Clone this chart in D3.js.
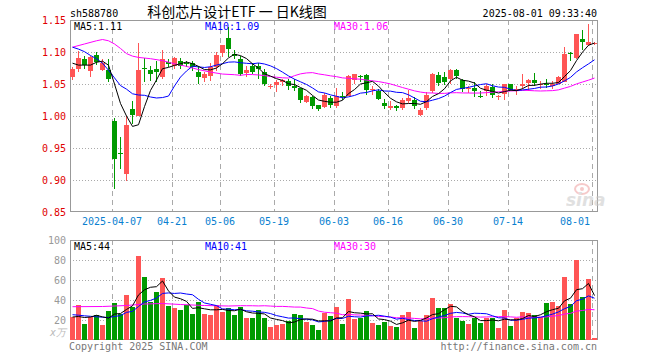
<!DOCTYPE html>
<html>
<head>
<meta charset="utf-8">
<script src="https://cdn.jsdelivr.net/npm/d3@7"></script>
<style>
  body { margin: 0; background: #fff; }
  svg text { font-family: "DejaVu Sans Mono", monospace; font-size: 10px; }
</style>
</head>
<body>
<svg id="kline" width="660" height="360"></svg>
<script>
// trading days shown on the chart
var dates = [
  "2025-03-26","2025-03-27","2025-03-28","2025-03-31","2025-04-01","2025-04-02","2025-04-03",
  "2025-04-07","2025-04-08","2025-04-09","2025-04-10","2025-04-11",
  "2025-04-14","2025-04-15","2025-04-16","2025-04-17","2025-04-18",
  "2025-04-21","2025-04-22","2025-04-23","2025-04-24","2025-04-25",
  "2025-04-28","2025-04-29","2025-04-30",
  "2025-05-06","2025-05-07","2025-05-08","2025-05-09",
  "2025-05-12","2025-05-13","2025-05-14","2025-05-15","2025-05-16",
  "2025-05-19","2025-05-20","2025-05-21","2025-05-22","2025-05-23",
  "2025-05-26","2025-05-27","2025-05-28","2025-05-29","2025-05-30",
  "2025-06-03","2025-06-04","2025-06-05","2025-06-06",
  "2025-06-09","2025-06-10","2025-06-11","2025-06-12","2025-06-13",
  "2025-06-16","2025-06-17","2025-06-18","2025-06-19","2025-06-20",
  "2025-06-23","2025-06-24","2025-06-25","2025-06-26","2025-06-27",
  "2025-06-30","2025-07-01","2025-07-02","2025-07-03","2025-07-04",
  "2025-07-07","2025-07-08","2025-07-09","2025-07-10","2025-07-11",
  "2025-07-14","2025-07-15","2025-07-16","2025-07-17","2025-07-18",
  "2025-07-21","2025-07-22","2025-07-23","2025-07-24","2025-07-25",
  "2025-07-28","2025-07-29","2025-07-30","2025-07-31","2025-08-01"
];

var opens = [
  1.061,1.074,1.090,1.070,1.096,1.072,1.073,0.992,0.942,0.911,
  1.011,1.000,1.076,1.072,1.074,1.062,1.085,1.079,1.087,1.084,
  1.084,1.069,1.059,1.063,1.077,1.098,1.123,1.098,1.090,1.069,
  1.079,1.078,1.069,1.046,1.049,1.053,1.055,1.047,1.044,1.022,
  1.030,1.017,1.016,1.029,1.016,1.032,1.031,1.057,1.063,1.064,
  1.041,1.039,1.021,1.013,1.016,1.013,1.024,1.026,1.002,1.013,
  1.039,1.064,1.062,1.058,1.072,1.057,1.043,1.044,1.032,1.039,
  1.046,1.030,1.034,1.051,1.042,1.047,1.051,1.056,1.049,1.051,
  1.047,1.051,1.055,1.099,1.091,1.121,1.111,1.114
];
var closes = [
  1.074,1.091,1.080,1.092,1.085,1.083,1.059,0.933,0.940,0.987,
  1.002,1.072,1.075,1.066,1.069,1.090,1.082,1.091,1.079,1.082,
  1.077,1.061,1.066,1.077,1.096,1.111,1.106,1.095,1.066,1.073,
  1.070,1.073,1.050,1.048,1.053,1.056,1.047,1.044,1.025,1.031,
  1.016,1.011,1.034,1.018,1.031,1.031,1.063,1.066,1.061,1.041,
  1.042,1.026,1.016,1.016,1.013,1.026,1.029,1.016,1.010,1.034,
  1.066,1.051,1.054,1.072,1.062,1.043,1.044,1.039,1.031,1.047,
  1.034,1.031,1.050,1.042,1.043,1.050,1.056,1.051,1.051,1.050,
  1.050,1.062,1.098,1.097,1.128,1.116,1.116,1.115
];
var highs = [
  1.077,1.102,1.094,1.094,1.101,1.090,1.090,0.998,0.968,1.000,
  1.024,1.115,1.091,1.079,1.087,1.103,1.090,1.092,1.091,1.087,
  1.087,1.079,1.070,1.084,1.100,1.111,1.140,1.103,1.095,1.079,
  1.084,1.083,1.074,1.051,1.056,1.059,1.058,1.058,1.045,1.033,
  1.031,1.018,1.037,1.031,1.045,1.038,1.064,1.066,1.065,1.066,
  1.047,1.043,1.027,1.024,1.018,1.029,1.041,1.030,1.013,1.038,
  1.067,1.070,1.069,1.074,1.074,1.058,1.047,1.053,1.039,1.050,
  1.050,1.034,1.051,1.051,1.047,1.066,1.058,1.067,1.055,1.058,
  1.055,1.063,1.108,1.100,1.129,1.135,1.145,1.116
];
var lows = [
  1.056,1.069,1.074,1.061,1.080,1.071,1.053,0.886,0.918,0.899,
  0.988,1.000,1.054,1.055,1.053,1.058,1.077,1.074,1.074,1.077,
  1.071,1.050,1.053,1.055,1.071,1.092,1.092,1.090,1.063,1.061,
  1.066,1.059,1.048,1.042,1.038,1.047,1.041,1.039,1.021,1.021,
  1.011,1.008,1.013,1.013,1.013,1.026,1.031,1.050,1.054,1.033,
  1.034,1.025,1.011,1.010,1.008,1.010,1.021,1.011,1.001,1.010,
  1.037,1.048,1.049,1.050,1.058,1.038,1.037,1.030,1.028,1.031,
  1.029,1.025,1.026,1.039,1.033,1.042,1.039,1.047,1.042,1.045,
  1.043,1.050,1.053,1.087,1.090,1.104,1.110,1.112
];
// volume, in 万
var volumes = [
  23.2,35.4,16.5,23.2,25.3,15.2,29.3,36.7,26.0,45.5,
  33.3,83.8,62.6,38.4,48.5,61.6,34.3,31.6,30.3,35.4,
  26.3,37.7,26.3,25.3,35.4,28.3,32.0,25.3,33.3,22.2,
  22.2,30.3,22.2,13.1,15.2,16.2,19.2,26.3,25.3,18.2,
  15.2,10.1,27.3,24.2,33.3,16.2,41.4,21.2,22.2,29.3,
  17.2,15.2,18.2,14.1,13.1,25.3,28.3,12.1,19.2,25.3,
  42.4,32.3,32.3,36.4,22.2,19.2,16.2,22.2,17.2,22.2,
  22.2,12.1,30.3,14.1,22.2,28.3,27.3,25.3,23.2,37.4,
  38.4,34.3,62.6,36.4,79.8,43.4,60.6,2.0
];

// moving averages before the window is full: [day index, value]
var ma5Head  = [[0,1.083],[1,1.080],[2,1.080],[3,1.080]];
var ma10Head = [[0,1.108],[1,1.105],[2,1.101],[3,1.095],[4,1.090],[5,1.083],[6,1.072],[7,1.060],[8,1.048]];
var ma30Head = [[0,1.108],[2,1.113],[4,1.118],[5,1.120],[6,1.118],[7,1.113],[8,1.106],[9,1.098],
                [10,1.094],[11,1.092],[13,1.090],[15,1.087],[17,1.082],[19,1.078],[21,1.073],
                [23,1.069],[25,1.066],[27,1.065],[28,1.064]];
var vMa5Head  = [[0,23],[1,23.5],[2,22.5],[3,23]];
var vMa10Head = [[0,25.3],[1,24.8],[2,24.2],[3,23.7],[4,23.2],[5,22.8],[6,22.5],[7,23.5],[8,24.5]];
var vMa30Head = [[0,33.3],[5,33.5],[9,34.5],[12,36],[15,36.5],[18,35.5],[22,34.5],[26,34],[28,34.3]];

var priceTicks = [0.85,0.90,0.95,1.00,1.05,1.10,1.15];
var volTicks = [20,40,60,80,100];
var tickDates = ["2025-04-07","2025-04-21","2025-05-06","2025-05-19","2025-06-03","2025-06-16","2025-06-30","2025-07-14","2025-08-01"];
var tickLabels = ["2025-04-07","04-21","05-06","05-19","06-03","06-16","06-30","07-14","08-01"];

var left = 70, right = 598;
var red = "#ff5555", green = "#009a00";

var svg = d3.select("#kline");

var x = d3.scaleBand().domain(dates).range([left, right]).padding(0);
var y = d3.scaleLinear().domain([0.85, 1.15]).range([212.3, 20.3]);
var vy = d3.scaleLinear().domain([0, 100]).range([340, 240]);

function ma(values, n, head) {
  var pts = head.slice();
  for (var i = n - 1; i < values.length; i++) {
    pts.push([i, d3.mean(values.slice(i - n + 1, i + 1))]);
  }
  return pts;
}

// header
svg.append("text").attr("x", 70).attr("y", 17).text("sh588780");
svg.append("text").attr("x", 237).attr("y", 17).attr("text-anchor", "middle")
  .style("font-family", "'Noto Sans CJK SC', sans-serif").style("font-size", "14px")
  .text("科创芯片设计ETF 一 日K线图");
svg.append("text").attr("x", 597).attr("y", 17).attr("text-anchor", "end").text("2025-08-01 09:33:40");

// grids for both panels
function panel(top, bottom, scale, ticks) {
  var g = svg.append("g");
  g.selectAll("line.h").data(ticks.filter(function(t){ return scale(t) > top + 2 && scale(t) < bottom - 2; }))
    .join("line").attr("class", "h")
    .attr("x1", left).attr("x2", right)
    .attr("y1", function(d){ return Math.round(scale(d)) + 0.5; })
    .attr("y2", function(d){ return Math.round(scale(d)) + 0.5; })
    .attr("stroke", "#aaa").attr("stroke-dasharray", "1,2");
  g.selectAll("line.v").data(tickDates).join("line").attr("class", "v")
    .attr("x1", function(d){ return x(d) + 0.5; }).attr("x2", function(d){ return x(d) + 0.5; })
    .attr("y1", top).attr("y2", bottom)
    .attr("stroke", "#aaa").attr("stroke-dasharray", "5,4");
  g.append("rect").attr("x", left + 0.5).attr("y", top + 0.5)
    .attr("width", right - left - 1).attr("height", bottom - top - 1)
    .attr("fill", "none").attr("stroke", "#999");
}
panel(20, 212, y, priceTicks);
panel(240, 340, vy, volTicks);

// y axes
svg.append("g").attr("transform", "translate(" + left + ",0)")
  .call(d3.axisLeft(y).tickValues(priceTicks).tickSize(0).tickPadding(4).tickFormat(d3.format(".2f")))
  .call(function(g){ g.select(".domain").remove(); })
  .call(function(g){ g.selectAll("text").attr("fill", "#e00000").style("font-family", "'DejaVu Sans Mono', monospace").style("font-size", "10px"); });

svg.append("g").attr("transform", "translate(" + left + ",0)")
  .call(d3.axisLeft(vy).tickValues(volTicks).tickSize(0).tickPadding(4))
  .call(function(g){ g.select(".domain").remove(); })
  .call(function(g){ g.selectAll("text").attr("fill", "#999").style("font-family", "'DejaVu Sans Mono', monospace").style("font-size", "10px"); });
svg.append("text").attr("x", 66).attr("y", 336).attr("text-anchor", "end")
  .attr("fill", "#bbb").style("font-style", "italic").text("x万");

// x labels
var xl = svg.append("g").selectAll("text").data(tickDates).join("text")
  .attr("y", 225).attr("fill", "#0a7fd0").attr("text-anchor", "middle")
  .text(function(d, i){ return tickLabels[i]; })
  .attr("x", function(d){ return x(d); });
xl.each(function(d){
  var w = this.getComputedTextLength();
  if (x(d) + w / 2 > right - 8) d3.select(this).attr("text-anchor", "end").attr("x", x(d) - 2);
});

// watermark
var wm = svg.append("g").attr("opacity", 0.55);
wm.append("ellipse").attr("cx", 582).attr("cy", 189).attr("rx", 7).attr("ry", 5)
  .attr("fill", "none").attr("stroke", "#f0a0a0").attr("stroke-width", 2);
wm.append("circle").attr("cx", 582).attr("cy", 189).attr("r", 2).attr("fill", "#f0a0a0");
wm.append("text").attr("x", 566).attr("y", 206)
  .style("font-family", "'DejaVu Sans', sans-serif").style("font-size", "17px")
  .style("font-weight", "bold").style("font-style", "italic")
  .attr("fill", "#c8c8c8").text("sina");

// candles
var idx = d3.range(dates.length);
function col(i){ return closes[i] >= opens[i] ? red : green; }
var cg = svg.append("g").attr("shape-rendering", "crispEdges");
cg.selectAll("line").data(idx).join("line")
  .attr("x1", function(i){ return x(dates[i]) + 2.5; }).attr("x2", function(i){ return x(dates[i]) + 2.5; })
  .attr("y1", function(i){ return y(highs[i]); }).attr("y2", function(i){ return y(lows[i]); })
  .attr("stroke", col);
cg.selectAll("rect").data(idx).join("rect")
  .attr("x", function(i){ return x(dates[i]); })
  .attr("width", 5)
  .attr("y", function(i){ return Math.round(y(Math.max(opens[i], closes[i]))); })
  .attr("height", function(i){ return Math.max(1, Math.round(Math.abs(y(opens[i]) - y(closes[i])))); })
  .attr("fill", col);

// volume bars
svg.append("g").attr("shape-rendering", "crispEdges")
  .selectAll("rect").data(idx).join("rect")
  .attr("x", function(i){ return x(dates[i]); })
  .attr("width", 5)
  .attr("y", function(i){ return Math.round(vy(volumes[i])); })
  .attr("height", function(i){ return vy(0) - Math.round(vy(volumes[i])); })
  .attr("fill", col);

// moving average lines
function drawMa(pts, scale, color) {
  var line = d3.line()
    .x(function(p){ return x(dates[p[0]]) + 2.5; })
    .y(function(p){ return scale(p[1]); });
  svg.append("path").datum(pts).attr("d", line)
    .attr("fill", "none").attr("stroke", color).attr("stroke-width", 1);
}
drawMa(ma(closes, 30, ma30Head), y, "#ff00ff");
drawMa(ma(closes, 10, ma10Head), y, "#0000ff");
drawMa(ma(closes, 5, ma5Head), y, "#000");
drawMa(ma(volumes, 30, vMa30Head), vy, "#ff00ff");
drawMa(ma(volumes, 10, vMa10Head), vy, "#0000ff");
drawMa(ma(volumes, 5, vMa5Head), vy, "#000");

// legend values (last moving average values)
function last(pts){ return pts[pts.length - 1][1]; }
var f2 = d3.format(".2f");
svg.append("text").attr("x", 74).attr("y", 30).attr("fill", "#000").text("MA5:" + f2(last(ma(closes, 5, ma5Head))));
svg.append("text").attr("x", 205).attr("y", 30).attr("fill", "#0000ff").text("MA10:" + f2(last(ma(closes, 10, ma10Head))));
svg.append("text").attr("x", 334).attr("y", 30).attr("fill", "#ff00ff").text("MA30:" + f2(last(ma(closes, 30, ma30Head))));
svg.append("text").attr("x", 74).attr("y", 250).attr("fill", "#000").text("MA5:" + Math.floor(last(ma(volumes, 5, vMa5Head))));
svg.append("text").attr("x", 205).attr("y", 250).attr("fill", "#0000ff").text("MA10:" + Math.floor(last(ma(volumes, 10, vMa10Head)) - 0.5));
svg.append("text").attr("x", 334).attr("y", 250).attr("fill", "#ff00ff").text("MA30:" + Math.floor(last(ma(volumes, 30, vMa30Head))));

// footer
svg.append("text").attr("x", 69).attr("y", 350).attr("fill", "#777").text("Copyright 2025 SINA.COM");
svg.append("text").attr("x", 597).attr("y", 350).attr("text-anchor", "end").attr("fill", "#777").text("http://finance.sina.com.cn");
</script>
</body>
</html>
